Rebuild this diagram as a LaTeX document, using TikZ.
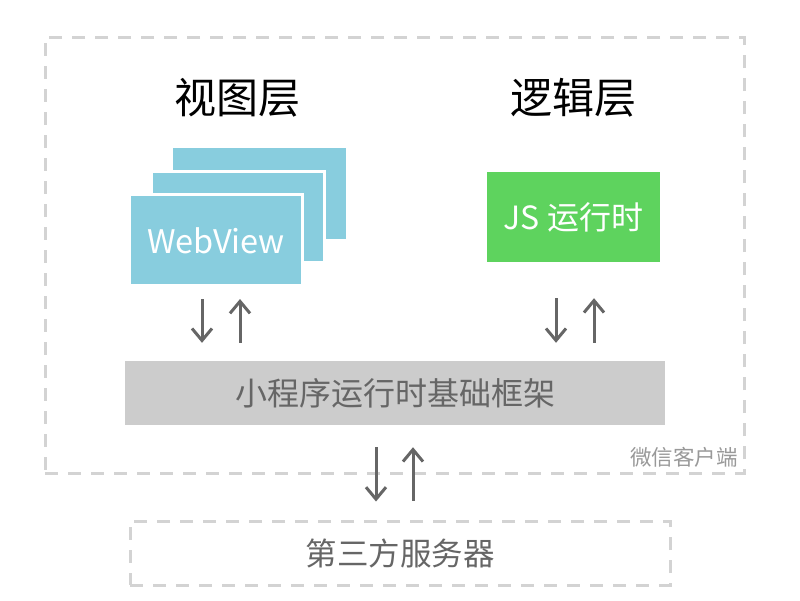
\documentclass[tikz,border=0pt]{standalone}
\usepackage{fontspec}
\setmainfont{Noto Sans CJK SC}
\usetikzlibrary{arrows.meta}
\definecolor{wvblue}{HTML}{88CDDE}
\definecolor{jsgreen}{HTML}{5ED35E}
\definecolor{bargray}{HTML}{CCCCCC}
\definecolor{dashgray}{HTML}{D3D3D3}
\definecolor{txtgray}{HTML}{666666}
\definecolor{lightgray}{HTML}{999999}
\tikzset{
  dashbox/.style={draw=dashgray,line width=3pt,dash pattern=on 13pt off 10pt},
  wvbox/.style={fill=wvblue,draw=white,line width=3pt,minimum width=173pt,minimum height=91pt,inner sep=0pt},
  arr/.style={draw=txtgray,line width=3pt,-{Straight Barb[length=12pt,width=20pt,line width=3pt]}},
  title/.style={font=\fontsize{42}{46}\selectfont,text=black},
}
\begin{document}
\begin{tikzpicture}[x=1pt,y=-1pt]
\useasboundingbox[fill=white] (0,0) rectangle (800,600);
% outer client frame
\node[dashbox,minimum width=699pt,minimum height=436pt,inner sep=0pt] (client) at (394.5,255) {};
\node[anchor=south east,inner sep=0pt,text=lightgray,font=\fontsize{21.5}{23}\selectfont] (clientlbl) at (738,468) {微信客户端};
% titles
\node[title] (viewt) at (237,98) {视图层};
\node[title] (logict) at (573,98) {逻辑层};
% webview stack
\node[wvbox,draw=none] (wv3) at (259.5,193) {};
\node[wvbox] (wv2) at (237.5,216.5) {};
\node[wvbox] (web) at (216,240) {};
\node[text=white,font=\fontsize{32.5}{34}\selectfont] (webt) at (216,241) {WebView};
% JS box
\node[fill=jsgreen,minimum width=173pt,minimum height=90pt,inner sep=0pt] (js) at (573.5,217) {};
\node[text=white,font=\fontsize{32}{34}\selectfont] (jst) at (573.5,217) {JS 运行时};
% framework bar
\node[fill=bargray,minimum width=540pt,minimum height=64pt,inner sep=0pt,text=txtgray,font=\fontsize{32}{34}\selectfont] (bar) at (395,393) {小程序运行时基础框架};
% server
\node[dashbox,minimum width=540pt,minimum height=64pt,inner sep=0pt,text=txtgray,font=\fontsize{31.5}{33}\selectfont] (server) at (400,553) {第三方服务器};
% arrows
\draw[arr] ([xshift=-14pt,yshift=-12pt]web.south) -- ([xshift=-193pt,yshift=18pt]bar.north);
\draw[arr] ([xshift=-155pt,yshift=18pt]bar.north) -- ([xshift=24pt,yshift=-12pt]web.south);
\draw[arr] ([xshift=-17.5pt,yshift=-36pt]js.south) -- ([xshift=161pt,yshift=18pt]bar.north);
\draw[arr] ([xshift=199pt,yshift=18pt]bar.north) -- ([xshift=20.5pt,yshift=-36pt]js.south);
\draw[arr] ([xshift=-19pt,yshift=-22pt]bar.south) -- ([xshift=-24pt,yshift=18pt]server.north);
\draw[arr] ([xshift=13pt,yshift=19pt]server.north) -- ([xshift=18pt,yshift=-22pt]bar.south);
\end{tikzpicture}
\end{document}
